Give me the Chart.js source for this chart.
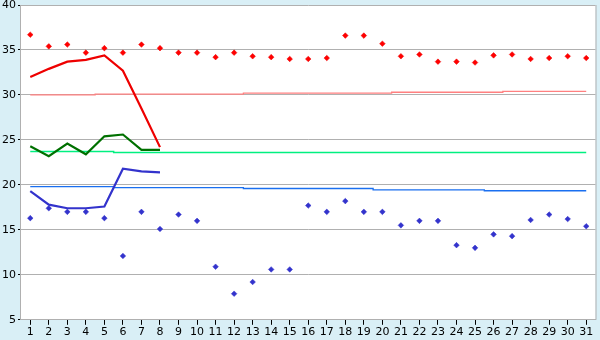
<!DOCTYPE html>
<html><head><meta charset="utf-8">
<script src="https://cdn.jsdelivr.net/npm/chart.js@4/dist/chart.umd.min.js"></script>
<style>html,body{margin:0;padding:0;background:#d9eff6;}#wrap{width:600px;height:340px;}</style>
</head><body><div id="wrap"><canvas id="c" width="600" height="340"></canvas></div>
<script>
const days = ['1','2','3','4','5','6','7','8','9','10','11','12','13','14','15','16','17','18','19','20','21','22','23','24','25','26','27','28','29','30','31'];
const maxTemps = [36.7,35.4,35.6,34.7,35.2,34.7,35.6,35.2,34.7,34.7,34.2,34.7,34.3,34.2,34.0,34.0,34.1,36.6,36.6,35.7,34.3,34.5,33.7,33.7,33.6,34.4,34.5,34.0,34.1,34.3,34.1];
const minTemps = [16.3,17.4,17.0,17.0,16.3,12.1,17.0,15.1,16.7,16.0,10.9,7.9,9.2,10.6,10.6,17.7,17.0,18.2,17.0,17.0,15.5,16.0,16.0,13.3,13.0,14.5,14.3,16.1,16.7,16.2,15.4];
const maxLine = [32.0,32.9,33.7,33.9,34.4,32.7,28.5,24.2];
const meanLine = [24.3,23.2,24.6,23.4,25.4,25.6,23.9,23.9];
const minLine = [19.3,17.8,17.4,17.4,17.6,21.8,21.5,21.4];
const normalMax = [30.0,30.0,30.0,30.0,30.1,30.1,30.1,30.1,30.1,30.1,30.1,30.1,30.2,30.2,30.2,30.2,30.2,30.2,30.2,30.2,30.3,30.3,30.3,30.3,30.3,30.3,30.4,30.4,30.4,30.4,30.4];
const normalMean = [23.7,23.7,23.7,23.7,23.7,23.6,23.6,23.6,23.6,23.6,23.6,23.6,23.6,23.6,23.6,23.6,23.6,23.6,23.6,23.6,23.6,23.6,23.6,23.6,23.6,23.6,23.6,23.6,23.6,23.6,23.6];
const normalMin = [19.8,19.8,19.8,19.8,19.8,19.7,19.7,19.7,19.7,19.7,19.7,19.7,19.6,19.6,19.6,19.6,19.6,19.6,19.6,19.45,19.45,19.45,19.45,19.45,19.45,19.35,19.35,19.35,19.35,19.35,19.35];
const yTicks = [5,10,15,20,25,30,35,40];

const borderPlugin = {
  id:'frame',
  beforeDraw(chart){
    const {ctx, chartArea:a} = chart;
    ctx.save(); ctx.fillStyle='#ffffff'; ctx.fillRect(a.left,a.top,a.right-a.left,a.bottom-a.top); ctx.restore();
  },
  afterDraw(chart){
    const {ctx, chartArea:a} = chart;
    ctx.save(); ctx.strokeStyle='#b0b0b0'; ctx.lineWidth=1;
    ctx.beginPath(); ctx.moveTo(a.right+0.5,a.top); ctx.lineTo(a.right+0.5,a.bottom); ctx.stroke(); ctx.restore();
  }
};

new Chart(document.getElementById('c'), {
  type:'line',
  data:{labels:days, datasets:[
    {data:normalMax, borderColor:'#ff8080', borderWidth:1.3, pointRadius:0, stepped:'middle', order:5},
    {data:normalMean, borderColor:'#00f080', borderWidth:1.5, pointRadius:0, stepped:'middle', order:5},
    {data:normalMin, borderColor:'#1a6ff0', borderWidth:1.3, pointRadius:0, stepped:'middle', order:5},
    {data:maxLine, borderColor:'#ee0000', borderWidth:2.2, pointRadius:0, order:3},
    {data:meanLine, borderColor:'#007000', borderWidth:2.2, pointRadius:0, order:3},
    {data:minLine, borderColor:'#3333cc', borderWidth:2.2, pointRadius:0, order:3},
    {data:maxTemps, showLine:false, pointStyle:'rectRot', pointRadius:2.8, backgroundColor:'#ff0000', borderColor:'#ee0000', borderWidth:0.5, order:1},
    {data:minTemps, showLine:false, pointStyle:'rectRot', pointRadius:2.8, backgroundColor:'#3333cc', borderColor:'#3333cc', borderWidth:0.5, order:1}
  ]},
  options:{
    responsive:false, animation:false, devicePixelRatio:1,
    layout:{padding:{left:0,top:5,right:4,bottom:0}},
    plugins:{legend:{display:false}, tooltip:{enabled:false}},
    scales:{
      x:{type:'category', offset:true,
        grid:{display:true, drawOnChartArea:false, offset:false, tickLength:5, tickColor:'#000', color:'#000'},
        border:{display:true, color:'#b0b0b0'},
        ticks:{color:'#000', font:{family:'DejaVu Sans', size:11}, padding:1, maxRotation:0, autoSkip:false},
        afterFit(s){ s.paddingLeft=0; s.paddingRight=0; }},
      y:{min:5, max:40, afterBuildTicks(s){s.ticks=yTicks.map(v=>({value:v}));},
        grid:{color:'#b0b0b0', tickLength:3, tickColor:'#000'},
        border:{display:true, color:'#b0b0b0'},
        ticks:{color:'#000', font:{family:'DejaVu Sans', size:11}, padding:2},
        afterFit(s){ s.paddingTop=0; s.paddingBottom=0; }}
    }
  },
  plugins:[borderPlugin]
});
</script></body></html>
